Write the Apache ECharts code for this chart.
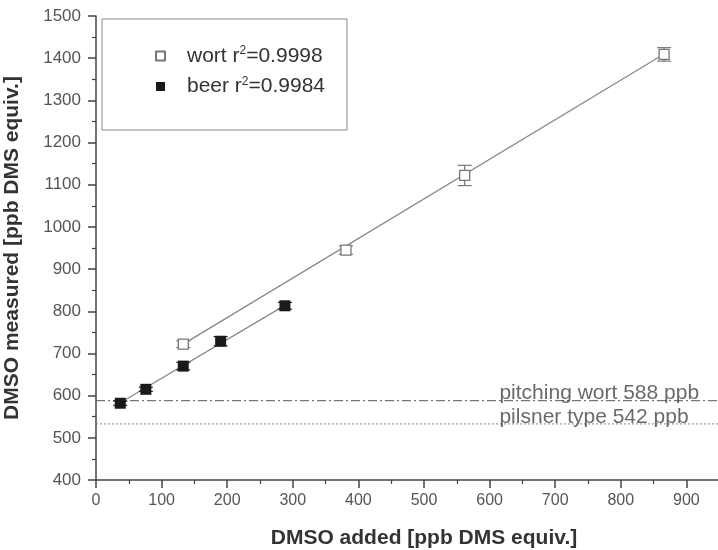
<!DOCTYPE html>
<html>
<head>
<meta charset="utf-8">
<script src="https://cdn.jsdelivr.net/npm/echarts@6/dist/echarts.min.js"></script>
<style>
  html, body { margin: 0; padding: 0; background: #fff; }
  #chart { width: 718px; height: 550px; }
</style>
</head>
<body>
<div id="chart"></div>
<script>
// data
var wortX = [133, 381, 562, 866];
var wortY = [722, 945, 1122, 1409];
var wortErr = [8, 10, 24, 16];

var beerX = [37, 76, 133, 190, 288];
var beerY = [582, 615, 670, 729, 813];
var beerErr = [5, 5, 9, 11, 8];

// linear fits (end points)
var wortFitX = [133, 866];
var wortFitY = [722, 1410];
var beerFitX = [37, 288];
var beerFitY = [583, 814];

// reference levels
var refValues = [588, 533];
var refLabels = ['pitching wort 588 ppb', 'pilsner type 542 ppb'];
var refLabelX = 615;

var legendR2 = { wort: '0.9998', beer: '0.9984' };

var font = '"Liberation Sans", Arial, sans-serif';

function pairs(xs, ys) {
    return xs.map(function (x, i) { return [x, ys[i]]; });
}
function errData(xs, ys, es) {
    return xs.map(function (x, i) { return [x, ys[i] - es[i], ys[i] + es[i]]; });
}
function errRender(color) {
    return function (params, api) {
        var x = api.value(0);
        var lo = api.coord([x, api.value(1)]);
        var hi = api.coord([x, api.value(2)]);
        var w = 7;
        var st = { stroke: color, lineWidth: 1.2 };
        return {
            type: 'group',
            children: [
                { type: 'line', shape: { x1: lo[0], y1: lo[1], x2: hi[0], y2: hi[1] }, style: st },
                { type: 'line', shape: { x1: lo[0] - w, y1: lo[1], x2: lo[0] + w, y2: lo[1] }, style: st },
                { type: 'line', shape: { x1: hi[0] - w, y1: hi[1], x2: hi[0] + w, y2: hi[1] }, style: st }
            ]
        };
    };
}

var myChart = echarts.init(document.getElementById('chart'));

var option = {
    animation: false,
    backgroundColor: '#fff',
    textStyle: { fontFamily: font },
    // axis runs past the right edge (to 1000), so only up to ~950 is visible
    grid: { left: 96, width: 656, top: 16, bottom: 70, containLabel: false, outerBoundsMode: 'none' },
    // legend box
    graphic: [{
        type: 'rect',
        shape: { x: 102, y: 19, width: 245, height: 111 },
        style: { fill: 'none', stroke: '#888', lineWidth: 1 },
        z: 1
    }],
    legend: {
        orient: 'vertical',
        left: 150,
        top: 40,
        itemWidth: 9,
        itemHeight: 9,
        itemGap: 9,
        data: ['wort', 'beer'],
        formatter: function (name) {
            return '{t|' + name + ' r}{s|2}{t|=' + legendR2[name] + '}';
        },
        textStyle: {
            padding: [0, 0, 0, 17],
            rich: {
                t: { fontSize: 21, color: '#333', fontFamily: font, lineHeight: 22 },
                s: { fontSize: 12, color: '#333', fontFamily: font, verticalAlign: 'top', lineHeight: 22 }
            }
        }
    },
    xAxis: {
        type: 'value',
        min: 0,
        max: 1000,
        interval: 100,
        name: 'DMSO added [ppb DMS equiv.]',
        nameLocation: 'middle',
        nameGap: 48,
        nameTextStyle: { fontSize: 21, fontWeight: 'bold', color: '#333', fontFamily: font },
        axisLine: { lineStyle: { color: '#444', width: 1.5 } },
        axisTick: { show: true, length: 8, lineStyle: { color: '#444', width: 1.5 } },
        minorTick: { show: true, splitNumber: 2, length: 4, lineStyle: { color: '#444', width: 1.2 } },
        axisLabel: { fontSize: 16, color: '#555', margin: 13, showMaxLabel: false },
        splitLine: { show: false }
    },
    yAxis: {
        type: 'value',
        min: 400,
        max: 1500,
        interval: 100,
        name: 'DMSO measured [ppb DMS equiv.]',
        nameLocation: 'middle',
        nameRotate: 90,
        nameGap: 73,
        nameTextStyle: { fontSize: 21, fontWeight: 'bold', color: '#333', fontFamily: font },
        axisLine: { show: true, lineStyle: { color: '#444', width: 1.5 } },
        axisTick: { show: true, length: 8, lineStyle: { color: '#444', width: 1.5 } },
        minorTick: { show: true, splitNumber: 2, length: 4, lineStyle: { color: '#444', width: 1.2 } },
        axisLabel: { fontSize: 17, color: '#555', margin: 15, formatter: function (v) { return String(v); } },
        splitLine: { show: false }
    },
    series: [
        {
            name: 'pitching wort',
            type: 'line',
            data: [[0, refValues[0]], [1000, refValues[0]]],
            symbol: 'none',
            lineStyle: { color: '#555', width: 1, type: [9, 3, 2, 3] },
            silent: true,
            z: 1
        },
        {
            name: 'pilsner',
            type: 'line',
            data: [[0, refValues[1]], [1000, refValues[1]]],
            symbol: 'none',
            lineStyle: { color: '#888', width: 1, type: [2, 2] },
            silent: true,
            z: 1
        },
        {
            name: 'refLabels',
            type: 'scatter',
            data: refValues.map(function (v, i) { return [refLabelX, v, refLabels[i]]; }),
            symbolSize: 0,
            label: {
                show: true,
                position: 'right',
                distance: 0,
                offset: [0, -7],
                fontSize: 21,
                color: '#444',
                fontFamily: font,
                formatter: function (p) { return p.value[2]; }
            },
            silent: true,
            z: 2
        },
        {
            name: 'wortFit',
            type: 'line',
            data: pairs(wortFitX, wortFitY),
            symbol: 'none',
            lineStyle: { color: '#888', width: 1.3 },
            z: 3
        },
        {
            name: 'beerFit',
            type: 'line',
            data: pairs(beerFitX, beerFitY),
            symbol: 'none',
            lineStyle: { color: '#888', width: 1.3 },
            z: 3
        },
        {
            name: 'wortErr',
            type: 'custom',
            data: errData(wortX, wortY, wortErr),
            encode: { x: 0, y: [1, 2] },
            renderItem: errRender('#777'),
            z: 4
        },
        {
            name: 'beerErr',
            type: 'custom',
            data: errData(beerX, beerY, beerErr),
            encode: { x: 0, y: [1, 2] },
            renderItem: errRender('#222'),
            z: 4
        },
        {
            name: 'wort',
            type: 'scatter',
            data: pairs(wortX, wortY),
            symbol: 'rect',
            symbolSize: 10,
            itemStyle: { color: '#fff', borderColor: '#777', borderWidth: 1.3, opacity: 1 },
            z: 5
        },
        {
            name: 'beer',
            type: 'scatter',
            data: pairs(beerX, beerY),
            symbol: 'rect',
            symbolSize: 11,
            itemStyle: { color: '#1a1a1a', opacity: 1 },
            z: 5
        }
    ]
};

myChart.setOption(option);
window.onresize = myChart.resize;
</script>
</body>
</html>
